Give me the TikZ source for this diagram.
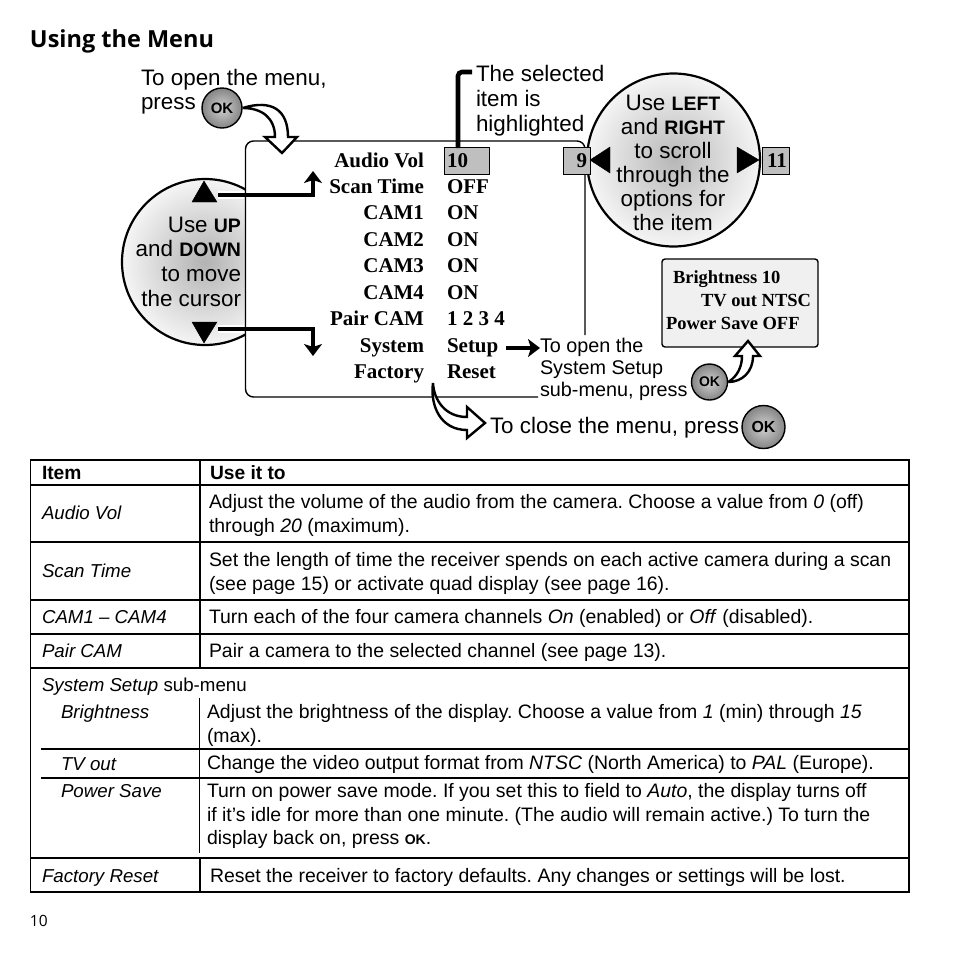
\documentclass[tikz,border=0pt]{standalone}
\usepackage{fontspec}
\setmainfont{Liberation Sans}
\newfontfamily\menufont{Liberation Serif}
\newfontfamily\headfont{Open Sans}
\usetikzlibrary{arrows.meta}
\newcommand{\fs}[1]{\fontsize{#1}{#1}\selectfont}
\frenchspacing
\tikzset{
  x=1pt,y=-1pt,
  lab/.style={inner sep=0pt,outer sep=0pt,anchor=base west,text=black,yshift=-0.7pt},
  labr/.style={lab,anchor=base east},
  labc/.style={lab,anchor=base},
  menu/.style={lab,font=\menufont\bfseries\fs{21}},
  menur/.style={menu,anchor=base east},
  sub/.style={lab,font=\menufont\bfseries\fs{18.5}},
  callout/.style={lab,font=\fs{22.4}},
  calloutc/.style={callout,anchor=base},
  calloutr/.style={callout,anchor=base east},
  small/.style={lab,font=\fs{19.8}},
  tbody/.style={lab,font=\fs{19.45}},
  tleft/.style={lab,font=\itshape\fs{18.7}},
  thead/.style={lab,font=\bfseries\fs{19.2}},
  okbtn/.style={circle,draw=black,line width=1.4pt,inner sep=0pt,inner color=black!18,outer color=black!48,font=\bfseries\fs{#1}},
  gbox/.style={draw=black,line width=0.7pt,fill=black!25,inner sep=0pt,minimum height=27pt},
  thickc/.style={line width=4.6pt,line cap=butt,-{Stealth[length=12pt,width=18pt,inset=3pt]}},
  hollow/.style={draw=black,fill=white,line width=2.4pt,line join=miter},
  frameline/.style={line width=1.4pt,rounded corners=8pt},
  rule/.style={line width=1.6pt},
  thin rule/.style={line width=1pt},
  tri/.style={fill=black}
}
\begin{document}
\begin{tikzpicture}
\useasboundingbox[fill=white] (0,0) rectangle (954,954);
\node[lab,font=\headfont\bfseries\fs{23.5}] (title) at (30,47) {Using the Menu};

% left circle, cut by the frame
\begin{scope}
  \clip (100,150) rectangle (245,370);
  \node[circle,draw=black,line width=2.2pt,minimum size=166pt,inner sep=0pt,inner color=black!30,outer color=black!4] (ud) at (205,262) {};
\end{scope}
% right circle
\node[circle,draw=black,line width=2.2pt,minimum size=173pt,inner sep=0pt,inner color=black!28,outer color=black!4] (lr) at (673.5,160) {};

% frame
\coordinate (fA) at (538,397);
\coordinate (fB) at (245.5,397);
\coordinate (fC) at (245.5,141);
\coordinate (fD) at (585,141);
\coordinate (fE) at (585,335);
\draw[frameline] (fA) -- (fB) -- (fC) -- (fD) -- (fE);

% hi-lite boxes
\node[gbox,minimum width=45pt] (hl) at (466.5,160.5) {};
\node[gbox,minimum width=27pt] (b9) at (576.5,160.5) {};
\node[gbox,minimum width=27pt] (b11) at (775.5,160.5) {};

% triangles
\draw[tri] (204,181) -- (217,202) -- (192,202) -- cycle;
\draw[tri] (204,343) -- (217,322) -- (192,322) -- cycle;
\draw[tri] (590,160) -- (610,147) -- (610,173) -- cycle;
\draw[tri] (759,160) -- (737,147) -- (737,173) -- cycle;

% menu
\node[menur] (m1) at (424,167) {Audio Vol};
\node[menur] (m2) at (424,193) {Scan Time};
\node[menur] (m3) at (424,219) {CAM1};
\node[menur] (m4) at (424,246) {CAM2};
\node[menur] (m5) at (424,272) {CAM3};
\node[menur] (m6) at (424,299) {CAM4};
\node[menur] (m7) at (424,325) {Pair CAM};
\node[menur] (m8) at (424,352) {System};
\node[menur] (m9) at (424,378) {Factory};
\node[menu] (v1) at (447,167) {10};
\node[menu] (v2) at (447,193) {OFF};
\node[menu] (v3) at (447,219) {ON};
\node[menu] (v4) at (447,246) {ON};
\node[menu] (v5) at (447,272) {ON};
\node[menu] (v6) at (447,299) {ON};
\node[menu] (v7) at (447,325) {1 2 3 4};
\node[menu] (v8) at (447,352) {Setup};
\node[menu] (v9) at (447,378) {Reset};
\node[menu,anchor=base east] (n9) at (587,167) {9};
\node[menu] (n11) at (767,167) {11};

% callouts
\node[callout] (open1) at (141,85) {To open the menu,};
\node[callout] (open2) at (141,109) {press};
\node[okbtn=15] (ok1) at (222,108) [minimum size=40pt] {OK};
\node[callout] (sel1) at (476,81) {The selected};
\node[callout] (sel2) at (476,106) {item is};
\node[callout] (sel3) at (476,131) {highlighted};

\node[calloutc] (r1) at (673,110) {Use {\bfseries\fs{19.5}LEFT}};
\node[calloutc] (r2) at (673,134) {and {\bfseries\fs{19.5}RIGHT}};
\node[calloutc] (r3) at (673,158) {to scroll};
\node[calloutc] (r4) at (673,182) {through the};
\node[calloutc] (r5) at (673,206) {options for};
\node[calloutc] (r6) at (673,230) {the item};

\node[calloutr] (l1) at (241,232) {Use {\bfseries\fs{19.5}UP}};
\node[calloutr] (l2) at (241,256) {and {\bfseries\fs{19.5}DOWN}};
\node[calloutr] (l3) at (241,281) {to move};
\node[calloutr] (l4) at (241,306) {the cursor};

\node[small] (s1) at (540,352) {To open the};
\node[small] (s2) at (540,374) {System Setup};
\node[small] (s3) at (540,396) {sub-menu, press};
\node[okbtn=14] (ok2) at (709.5,382) [minimum size=36pt] {OK};

\node[callout] (close) at (490,433) {To close the menu, press};
\node[okbtn=16] (ok3) at (763.5,427) [minimum size=43pt] {OK};

% sub-menu box
\node[draw=black,line width=1.4pt,fill=black!6,rounded corners=3pt,minimum width=156pt,minimum height=88pt,inner sep=0pt] (subbox) at (740,303) {};
\node[sub] (b1) at (673,283) {Brightness 10};
\node[sub] (b2) at (701,306) {TV out NTSC};
\node[sub] (b3) at (666,329) {Power Save OFF};

% connectors
\coordinate (upS) at (218,195);
\coordinate (upE) at (313,171);
\coordinate (dnS) at (218,329);
\coordinate (dnE) at (313,356);
\draw[white,line width=8pt] (upS) -- (244,195);
\draw[white,line width=8pt] (dnS) -- (244,329);
\draw[thickc] (upS) -| (upE);
\draw[thickc] (dnS) -| (dnE);
\coordinate (brA) at (458,148);
\coordinate (brB) at (472,72);
\draw[line width=4.6pt,rounded corners=4pt] (brA) |- (brB);
\coordinate (setA) at (506,348);
\draw[thickc] (setA) -- (s1.west |- setA);

% hollow arrows
\draw[hollow] (ok1.east) .. controls (272,99) and (288,110) .. (288,137) -- (297,137) -- (282,153) -- (265,137) -- (275,137) .. controls (275,118) and (262,108) .. (ok1.east);
\coordinate (clA) at (433,383);
\draw[hollow] (clA) .. controls (434,400) and (445,417) .. (467,417) -- (467,407) -- (485,423) -- (467,438) -- (467,430) .. controls (440,430) and (430,405) .. (clA);
\draw[hollow] (ok2.east) .. controls (738,376) and (742,366) .. (742,356) -- (735,356) -- (748,341) -- (760,356) -- (753,356) .. controls (753,372) and (742,382) .. (ok2.east);

% table rules
\coordinate (tTL) at (30.5,460);
\coordinate (tBR) at (909,892);
\draw[rule] (tTL) rectangle (tBR);
\foreach \y in {485,542,600,634,668,858}{\draw[rule] (30.5,\y) -- (909,\y);}
\draw[rule] (200,460) -- (200,668);
\draw[rule] (200,858) -- (200,892);
\draw[thin rule] (199,698) -- (199,853);
\draw[rule] (41,749) -- (909,749);
\draw[rule] (41,778) -- (909,778);

% table text
\node[thead] (h1) at (42,479) {Item};
\node[thead] (h2) at (210,479) {Use it to};
\node[tleft] (t1) at (42,519) {Audio Vol};
\node[tbody] (d1a) at (209,508) {Adjust the volume of the audio from the camera. Choose a value from \textit{0} (off)};
\node[tbody] (d1b) at (209,532) {through \textit{20} (maximum).};
\node[tleft] (t2) at (42,577) {Scan Time};
\node[tbody] (d2a) at (209,566) {Set the length of time the receiver spends on each active camera during a scan};
\node[tbody] (d2b) at (209,590) {(see page 15) or activate quad display (see page 16).};
\node[tleft] (t3) at (42,623) {CAM1 – CAM4};
\node[tbody] (d3) at (209,623) {Turn each of the four camera channels \textit{On} (enabled) or \textit{Off} (disabled).};
\node[tleft] (t4) at (42,657) {Pair CAM};
\node[tbody] (d4) at (209,657) {Pair a camera to the selected channel (see page 13).};
\node[tleft] (t5) at (42,691) {System Setup \upshape sub-menu};
\node[tleft] (t6) at (61,718) {Brightness};
\node[tbody] (d6a) at (207,718) {Adjust the brightness of the display. Choose a value from \textit{1} (min) through \textit{15}};
\node[tbody] (d6b) at (207,742) {(max).};
\node[tleft] (t7) at (61,770) {TV out};
\node[tbody] (d7) at (207,769) {Change the video output format from \textit{NTSC} (North America) to \textit{PAL} (Europe).};
\node[tleft] (t8) at (61,797) {Power Save};
\node[tbody] (d8a) at (207,797) {Turn on power save mode. If you set this to field to \textit{Auto}, the display turns off};
\node[tbody] (d8b) at (207,821) {if it’s idle for more than one minute. (The audio will remain active.) To turn the};
\node[tbody] (d8c) at (207,844) {display back on, press {\bfseries\fs{14}OK}.};
\node[tleft] (t9) at (42,882) {Factory Reset};
\node[tbody] (d9) at (210,882) {Reset the receiver to factory defaults. Any changes or settings will be lost.};
\node[lab,font=\headfont\fs{15.5}] (page) at (30,926) {10};
\end{tikzpicture}
\end{document}
